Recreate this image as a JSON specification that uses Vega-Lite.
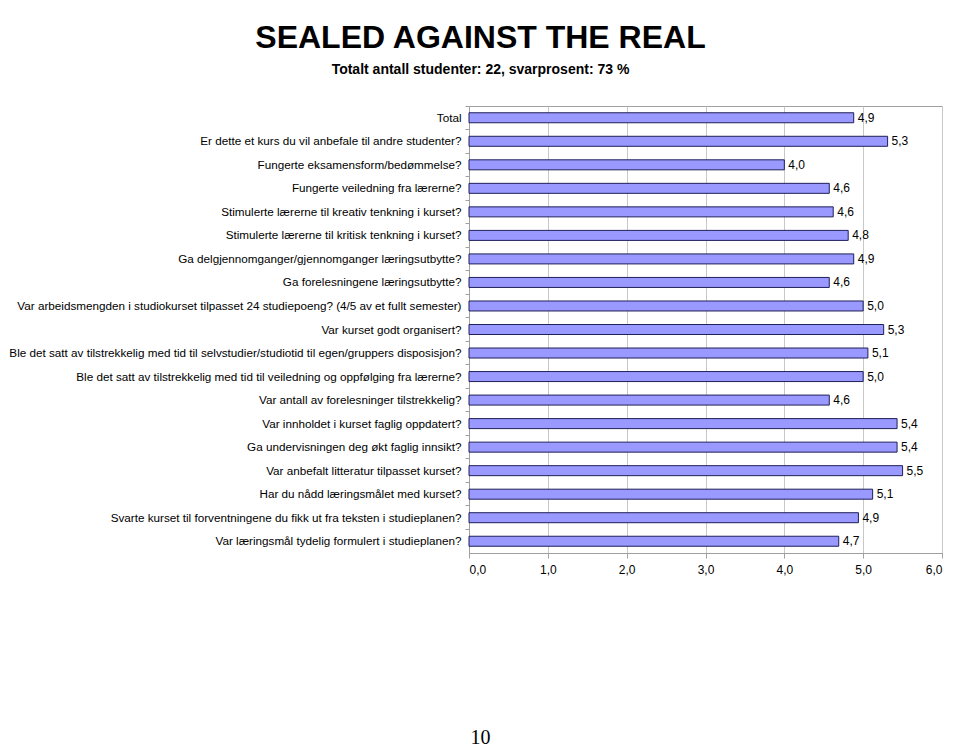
{
  "$schema": "https://vega.github.io/schema/vega-lite/v6.json",
  "width": 473,
  "height": 447,
  "autosize": {"type": "none"},
  "padding": {"left": 469, "top": 106, "right": 18, "bottom": 193},
  "background": "white",
  "config": {
    "locale": {"number": {"decimal": ",", "thousands": " ", "grouping": [3], "currency": ["", " kr"]}},
    "font": "Liberation Sans",
    "view": {"stroke": "#a0a0a0", "strokeWidth": 1}
  },
  "title": {
    "text": "SEALED AGAINST THE REAL",
    "subtitle": "Totalt antall studenter: 22, svarprosent: 73 %",
    "font": "Liberation Sans",
    "fontSize": 32,
    "fontWeight": "bold",
    "color": "black",
    "subtitleFont": "Liberation Sans",
    "subtitleFontSize": 14,
    "subtitleFontWeight": "bold",
    "subtitleColor": "black",
    "subtitlePadding": 8,
    "anchor": "middle",
    "frame": "group",
    "dx": -225,
    "offset": 28
  },
  "data": {
    "values": [
      {"q": "Total", "v": 4.88},
      {"q": "Er dette et kurs du vil anbefale til andre studenter?", "v": 5.31},
      {"q": "Fungerte eksamensform/bedømmelse?", "v": 4.0},
      {"q": "Fungerte veiledning fra lærerne?", "v": 4.57},
      {"q": "Stimulerte lærerne til kreativ tenkning i kurset?", "v": 4.62},
      {"q": "Stimulerte lærerne til kritisk tenkning i kurset?", "v": 4.81},
      {"q": "Ga delgjennomganger/gjennomganger læringsutbytte?", "v": 4.88},
      {"q": "Ga forelesningene læringsutbytte?", "v": 4.57},
      {"q": "Var arbeidsmengden i studiokurset tilpasset 24 studiepoeng? (4/5 av et fullt semester)", "v": 5.0},
      {"q": "Var kurset godt organisert?", "v": 5.26},
      {"q": "Ble det satt av tilstrekkelig med tid til selvstudier/studiotid til egen/gruppers disposisjon?", "v": 5.06},
      {"q": "Ble det satt av tilstrekkelig med tid til veiledning og oppfølging fra lærerne?", "v": 5.0},
      {"q": "Var antall av forelesninger tilstrekkelig?", "v": 4.57},
      {"q": "Var innholdet i kurset faglig oppdatert?", "v": 5.43},
      {"q": "Ga undervisningen deg økt faglig innsikt?", "v": 5.43},
      {"q": "Var anbefalt litteratur tilpasset kurset?", "v": 5.5},
      {"q": "Har du nådd læringsmålet med kurset?", "v": 5.12},
      {"q": "Svarte kurset til forventningene du fikk ut fra teksten i studieplanen?", "v": 4.94},
      {"q": "Var læringsmål tydelig formulert i studieplanen?", "v": 4.69}
    ]
  },
  "encoding": {
    "y": {
      "field": "q",
      "type": "nominal",
      "sort": null,
      "scale": {"paddingInner": 0, "paddingOuter": 0},
      "axis": {
        "title": null,
        "labelLimit": 0,
        "labelFont": "Liberation Sans",
        "labelFontSize": 11.7,
        "labelColor": "black",
        "labelPadding": 4,
        "tickSize": 4,
        "tickColor": "#a0a0a0",
        "domainColor": "#a0a0a0",
        "bandPosition": 0,
        "grid": false
      }
    }
  },
  "layer": [
    {
      "mark": {"type": "bar", "height": 10, "fill": "#9999ff", "stroke": "#1f1f5a", "strokeWidth": 1},
      "encoding": {
        "x": {
          "field": "v",
          "type": "quantitative",
          "scale": {"domain": [0, 6], "nice": false},
          "axis": {
            "values": [0, 1, 2, 3, 4, 5, 6],
            "format": ".1f",
            "labelFont": "Liberation Sans",
            "labelFontSize": 12,
            "labelColor": "black",
            "labelPadding": 6,
            "tickSize": 5,
            "tickColor": "#a0a0a0",
            "domainColor": "#a0a0a0",
            "gridColor": "#c8c8c8",
            "gridWidth": 1,
            "title": "10",
            "titleFont": "Liberation Serif",
            "titleFontSize": 20,
            "titleFontWeight": "normal",
            "titleColor": "black",
            "titleX": 11,
            "titleY": 190,
            "titleAlign": "center",
            "titleBaseline": "alphabetic"
          }
        }
      }
    },
    {
      "mark": {"type": "text", "align": "left", "baseline": "middle", "dx": 4, "font": "Liberation Sans", "fontSize": 12, "color": "black"},
      "encoding": {
        "x": {"field": "v", "type": "quantitative"},
        "text": {"field": "v", "type": "quantitative", "format": ".1f"}
      }
    }
  ]
}
